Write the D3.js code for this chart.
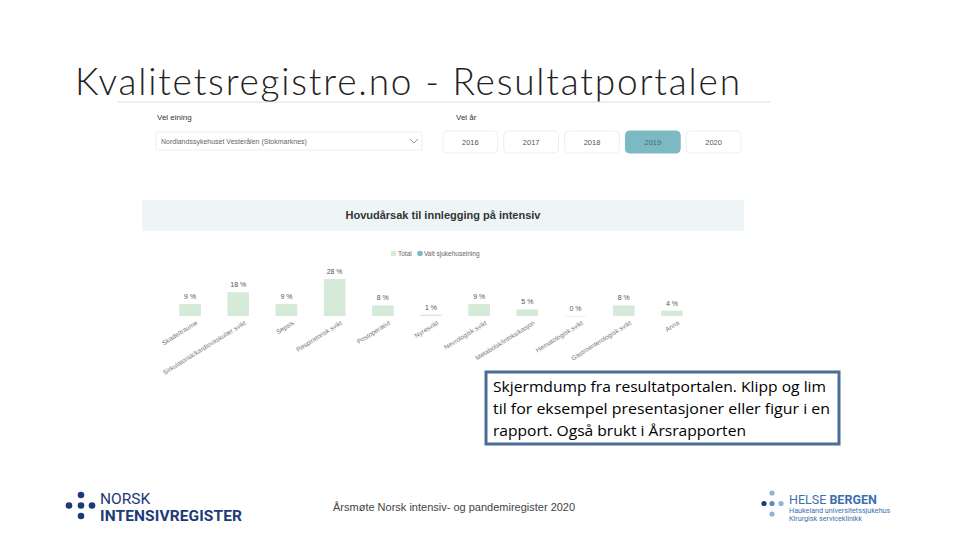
<!DOCTYPE html>
<html>
<head>
<meta charset="utf-8">
<script src="https://cdnjs.cloudflare.com/ajax/libs/d3/7.8.5/d3.min.js"></script>
<style>
  body { margin: 0; background: #fff; }
  svg { display: block; }
</style>
</head>
<body>
<script>
// data
var categories = ['Skade/traume', 'Sirkulatorisk/kardiovaskulær svikt', 'Sepsis', 'Respiratorisk svikt',
  'Postoperativt', 'Nyresvikt', 'Nevrologisk svikt', 'Metabolsk/intoksikasjon',
  'Hematologisk svikt', 'Gastroenterologisk svikt', 'Anna'];
var totalPct = [9, 18, 9, 28, 8, 1, 9, 5, 0, 8, 4];
var years = ['2016', '2017', '2018', '2019', '2020'];
var selectedYear = '2019';
var legendItems = ['Total', 'Valt sjukehuseining'];

var svg = d3.select('body').append('svg')
  .attr('width', 960)
  .attr('height', 540);

// slide title
svg.append('text')
  .attr('x', 75).attr('y', 95)
  .attr('font-family', 'Lato, sans-serif')
  .attr('font-weight', 300)
  .attr('font-size', 37)
  .attr('fill', '#222')
  .attr('textLength', 665)
  .text('Kvalitetsregistre.no - Resultatportalen');
svg.append('line')
  .attr('x1', 118).attr('x2', 770).attr('y1', 102).attr('y2', 102)
  .attr('stroke', '#ddd').attr('stroke-width', 1);

// selectors
var ui = svg.append('g').attr('font-family', 'Liberation Sans, Arial, sans-serif');
ui.append('text').attr('x', 157).attr('y', 120).attr('font-size', 8).attr('fill', '#333').text('Vel eining');
ui.append('text').attr('x', 456).attr('y', 120).attr('font-size', 8).attr('fill', '#333').text('Vel år');
ui.append('rect').attr('x', 156).attr('y', 132).attr('width', 266).attr('height', 18)
  .attr('rx', 2).attr('fill', '#fff').attr('stroke', '#eee');
ui.append('text').attr('x', 161).attr('y', 144).attr('font-size', 7).attr('fill', '#666')
  .text('Nordlandssykehuset Vesterålen (Stokmarknes)');
ui.append('path').attr('d', 'M410,139 L414,143 L418,139').attr('fill', 'none').attr('stroke', '#999');

var yearX = d3.scaleBand().domain(years).range([443, 741]).paddingInner(0.1);
var yb = ui.selectAll('g.year').data(years).enter().append('g').attr('class', 'year');
yb.append('rect')
  .attr('x', function(d) { return yearX(d); })
  .attr('y', 131).attr('width', yearX.bandwidth()).attr('height', 22).attr('rx', 4)
  .attr('fill', function(d) { return d === selectedYear ? '#7cb9c3' : '#fff'; })
  .attr('stroke', function(d) { return d === selectedYear ? '#7cb9c3' : '#eee'; });
yb.append('text')
  .attr('x', function(d) { return yearX(d) + yearX.bandwidth() / 2; })
  .attr('y', 145).attr('text-anchor', 'middle').attr('font-size', 7.5)
  .attr('fill', function(d) { return d === selectedYear ? '#3d6e76' : '#555'; })
  .text(function(d) { return d; });

// chart header
svg.append('rect').attr('x', 142).attr('y', 200).attr('width', 602).attr('height', 31).attr('fill', '#eef5f7');
svg.append('text').attr('x', 443).attr('y', 219).attr('text-anchor', 'middle')
  .attr('font-family', 'Liberation Sans, Arial, sans-serif').attr('font-weight', 'bold')
  .attr('font-size', 11).attr('fill', '#333')
  .text('Hovudårsak til innlegging på intensiv');

// legend
var lg = svg.append('g').attr('font-family', 'Liberation Sans, Arial, sans-serif').attr('font-size', 6.5).attr('fill', '#666');
lg.append('rect').attr('x', 391).attr('y', 251).attr('width', 5).attr('height', 5).attr('fill', '#d5ead8');
lg.append('text').attr('x', 398).attr('y', 256).text(legendItems[0]);
lg.append('circle').attr('cx', 420).attr('cy', 253.5).attr('r', 2.8).attr('fill', '#7cb9c3');
lg.append('text').attr('x', 424).attr('y', 256).text(legendItems[1]);

// bars
var x = d3.scaleBand().domain(categories).range([166, 696]).paddingInner(0.55).paddingOuter(0.275);
var y = d3.scaleLinear().domain([0, 28]).range([316, 279]);

var chart = svg.append('g').attr('font-family', 'Liberation Sans, Arial, sans-serif');
chart.selectAll('rect.bar').data(categories).enter().append('rect')
  .attr('class', 'bar')
  .attr('x', function(d) { return x(d); })
  .attr('width', x.bandwidth())
  .attr('y', function(d, i) { return y(totalPct[i]); })
  .attr('height', function(d, i) { return Math.max(y(0) - y(totalPct[i]), 1); })
  .attr('fill', function(d, i) { return totalPct[i] === 0 ? '#eef3ee' : '#d5ead8'; });

chart.selectAll('text.val').data(categories).enter().append('text')
  .attr('class', 'val')
  .attr('x', function(d) { return x(d) + x.bandwidth() / 2; })
  .attr('y', function(d, i) { return y(totalPct[i]) - 5; })
  .attr('text-anchor', 'middle').attr('font-size', 7).attr('fill', '#555')
  .text(function(d, i) { return totalPct[i] + ' %'; });

chart.selectAll('text.cat').data(categories).enter().append('text')
  .attr('class', 'cat')
  .attr('text-anchor', 'end').attr('font-size', 6.5).attr('fill', '#777')
  .attr('transform', function(d) {
    return 'translate(' + (x(d) + x.bandwidth() / 2 + 8) + ',' + 324 + ') rotate(-32)';
  })
  .text(function(d) { return d; });

// note box
svg.append('rect').attr('x', 486).attr('y', 372).attr('width', 353).attr('height', 72)
  .attr('fill', '#fff').attr('stroke', '#4b6e96').attr('stroke-width', 3);
var note = ['Skjermdump fra resultatportalen. Klipp og lim',
  'til for eksempel  presentasjoner eller figur i en',
  'rapport. Også brukt i Årsrapporten'];
var noteWidth = [333, 337, 253];
svg.selectAll('text.note').data(note).enter().append('text')
  .attr('class', 'note')
  .attr('x', 493).attr('y', function(d, i) { return 392 + i * 22; })
  .attr('font-family', 'Open Sans, sans-serif').attr('font-size', 14.5).attr('fill', '#000')
  .attr('textLength', function(d, i) { return noteWidth[i]; })
  .attr('lengthAdjust', 'spacingAndGlyphs')
  .text(function(d) { return d; });

// footer
svg.append('text').attr('x', 333).attr('y', 511)
  .attr('font-family', 'Liberation Sans, Arial, sans-serif').attr('font-size', 11).attr('fill', '#444')
  .text('Årsmøte Norsk intensiv- og pandemiregister 2020');

// logo left
var nlogo = svg.append('g').attr('fill', '#1d3a78');
[[81, 495, 3.3], [69, 505.5, 3.3], [81, 505.5, 3.3], [92, 505.5, 3.3], [81, 516, 3.3]].forEach(function(p) {
  nlogo.append('circle').attr('cx', p[0]).attr('cy', p[1]).attr('r', p[2]);
});
nlogo.append('text').attr('x', 100).attr('y', 504).attr('font-family', 'Roboto, sans-serif')
  .attr('font-size', 15.5).text('NORSK');
nlogo.append('text').attr('x', 100).attr('y', 521).attr('font-family', 'Roboto, sans-serif')
  .attr('font-weight', 'bold').attr('font-size', 15.5).attr('textLength', 142).text('INTENSIVREGISTER');

// logo right
var hlogo = svg.append('g');
[[772, 493, 2.6, '#8fb3d9'], [764, 503.5, 2.6, '#1d3a78'], [772, 503.5, 2.6, '#5d8cc4'], [781, 503.5, 2.6, '#8fb3d9'], [772, 514, 2.6, '#8fb3d9']].forEach(function(p) {
  hlogo.append('circle').attr('cx', p[0]).attr('cy', p[1]).attr('r', p[2]).attr('fill', p[3]);
});
var ht = hlogo.append('text').attr('x', 789).attr('y', 504).attr('font-family', 'Roboto, sans-serif')
  .attr('font-size', 12.5).attr('fill', '#3b6fae');
ht.append('tspan').text('HELSE ');
ht.append('tspan').attr('font-weight', 'bold').text('BERGEN');
hlogo.append('text').attr('x', 789).attr('y', 513).attr('font-family', 'Roboto, sans-serif')
  .attr('font-size', 7.2).attr('fill', '#3b6fae').text('Haukeland universitetssjukehus');
hlogo.append('text').attr('x', 789).attr('y', 521).attr('font-family', 'Roboto, sans-serif')
  .attr('font-size', 7.2).attr('fill', '#3b6fae').text('Kirurgisk serviceklinikk');
</script>
</body>
</html>
